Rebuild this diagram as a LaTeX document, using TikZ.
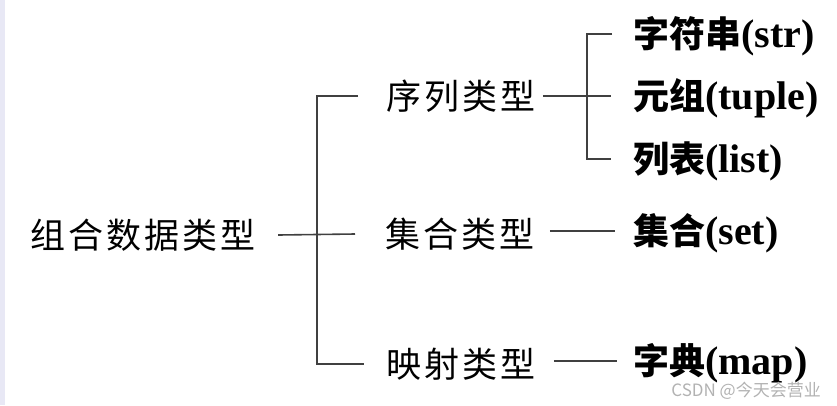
\documentclass[tikz,border=0pt]{standalone}
\usepackage{fontspec}
\usetikzlibrary{calc}
\setmainfont{Liberation Serif}
\newfontfamily\cjk{Noto Sans CJK SC}
\newfontfamily\cjkls[LetterSpace=9]{Noto Sans CJK SC}
\definecolor{StripClr}{rgb}{0.91,0.91,0.96}
\definecolor{LineClr}{rgb}{0.25,0.25,0.25}
\newcommand{\zh}[1]{{\fontsize{36}{36}\cjk\bfseries #1}}

\begin{document}
\begin{tikzpicture}[x=1pt,y=-1pt,
  typ/.style={font=\fontsize{35}{35}\cjkls,inner sep=0pt,text height=28.5pt,text depth=1.5pt,anchor=west},
  val/.style={font=\fontsize{40}{40}\bfseries,inner sep=0pt,text height=29pt,text depth=1.6pt,anchor=west},
  branch/.style={draw=LineClr,line width=1.6pt}]
\useasboundingbox (0,0) rectangle (837,405);
\fill[StripClr] (0,0) rectangle (5,405);

% kinds of data
\node[typ] (root) at (30,235) {组合数据类型};
\node[typ] (seq) at (386,96) {序列类型};
\node[typ] (coll) at (385,234) {集合类型};
\node[typ] (mapt) at (386,364) {映射类型};

% concrete types
\node[val] (str) at (633,34) {\zh{字符串}(str)};
\node[val] (tup) at (633,96) {\zh{元组}(tuple)};
\node[val] (lst) at (633,159) {\zh{列表}(list)};
\node[val] (sset) at (633,231) {\zh{集合}(set)};
\node[val] (dict) at (633,361) {\zh{字典}(map)};

\coordinate (j1) at (317,234);
\coordinate (j2) at (587,96);

\draw[branch] ([xshift=22pt]root.east) -- ([xshift=-30pt]coll.west);
\draw[branch] ([xshift=-28pt]seq.west) -| (j1) |- ([xshift=-22pt]mapt.west);
\draw[branch] ([xshift=7pt]seq.east) -- ([xshift=-22pt]tup.west);
\draw[branch] ([xshift=-21pt]str.west) -| (j2) |- ([xshift=-22pt]lst.west);
\draw[branch] ($(coll.east |- sset.west)+(15pt,0)$) -- ([xshift=-18pt]sset.west);
\draw[branch] ($(mapt.east |- dict.west)+(18pt,0)$) -- ([xshift=-16pt]dict.west);

\node[anchor=east,text=gray!60,font=\fontsize{17}{17}\cjk,inner sep=0pt] (wm) at (821,391) {CSDN @今天会营业};
\end{tikzpicture}
\end{document}
